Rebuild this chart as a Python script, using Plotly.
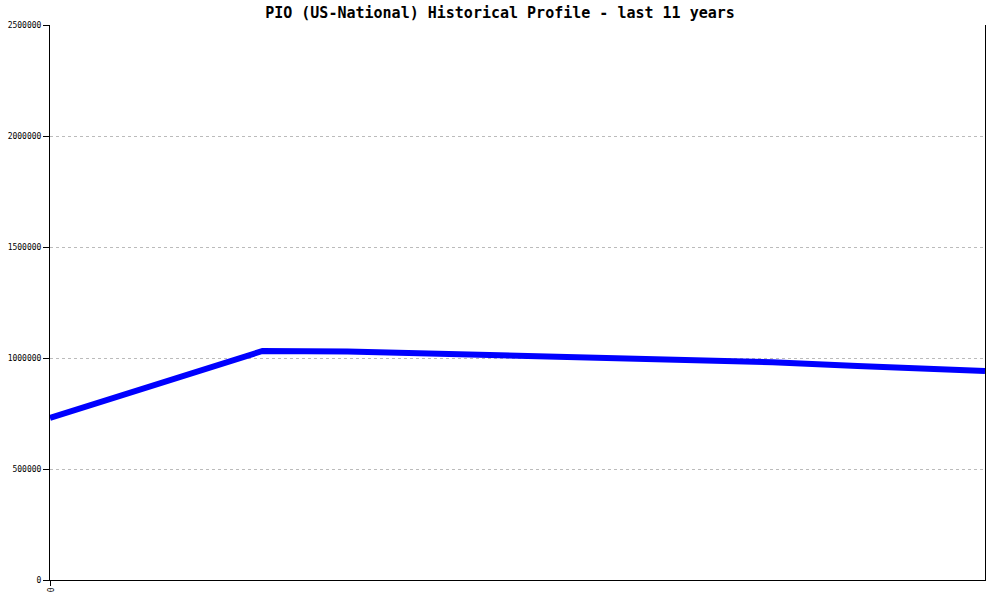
import plotly.graph_objects as go

# quarter index over the 11-year span
quarters = [0, 10, 14, 18, 22, 26, 30, 34, 38, 41, 44]
values = [729730, 1031532, 1029279, 1019369, 1012162, 1004054, 992342, 981081, 963964, 950450, 941441]

y_ticks = [0, 500000, 1000000, 1500000, 2000000, 2500000]
y_tick_labels = [str(v) for v in y_ticks]
x_ticks = [0]
x_tick_labels = ["0"]

fig = go.Figure()
fig.add_trace(go.Scatter(
    x=quarters, y=values, mode="lines",
    line=dict(color="#0000FF", width=6),
    hoverinfo="skip", showlegend=False,
))

fig.update_layout(
    width=1000, height=600,
    margin=dict(l=50, r=15, t=25, b=20, autoexpand=False),
    paper_bgcolor="white", plot_bgcolor="white",
    title=dict(
        text="<b>PIO (US-National) Historical Profile - last 11 years</b>",
        x=0.5, xanchor="center", y=1 - 13 / 600, yanchor="middle",
        font=dict(family="DejaVu Sans Mono", size=15, color="black"),
    ),
    xaxis=dict(
        range=[0, 44], tickvals=x_ticks, ticktext=x_tick_labels,
        tickangle=90, ticks="outside", ticklen=5, tickcolor="black",
        showline=True, linecolor="black", linewidth=1,
        showgrid=False, zeroline=False, automargin=False,
        tickfont=dict(family="DejaVu Sans Mono", size=8, color="black"),
    ),
    yaxis=dict(
        range=[0, 2500000], tickvals=y_ticks, ticktext=y_tick_labels,
        ticks="outside", ticklen=6, tickcolor="black",
        showline=True, linecolor="black", linewidth=1, mirror=True,
        showgrid=True, gridcolor="#bbbbbb", griddash="dot", gridwidth=1,
        zeroline=False, automargin=False,
        tickfont=dict(family="DejaVu Sans Mono", size=8, color="black"),
    ),
)

fig.write_html(
    "out.html",
    config={"displayModeBar": False, "staticPlot": True},
    post_script="document.body.style.margin='0';",
)
